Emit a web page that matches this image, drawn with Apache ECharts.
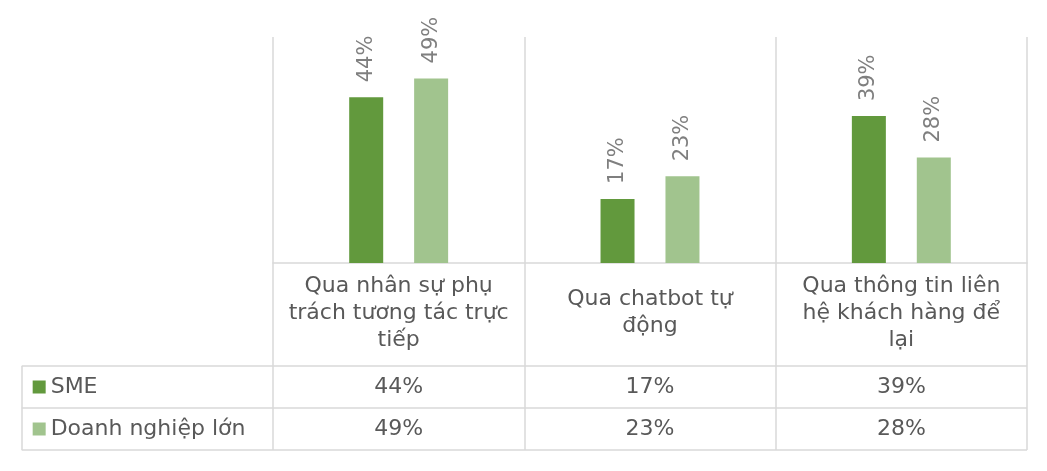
<!DOCTYPE html>
<html>
<head>
<meta charset="utf-8">
<script src="https://cdn.jsdelivr.net/npm/echarts@6/dist/echarts.min.js"></script>
<style>
html,body{margin:0;padding:0;background:#fff;}
#chart{width:1047px;height:471px;}
</style>
</head>
<body>
<div id="chart"></div>
<script>
// ---- data ----
const categories = ['Qua nhân sự phụ\ntrách tương tác trực\ntiếp', 'Qua chatbot tự\nđộng', 'Qua thông tin liên\nhệ khách hàng để\nlại'];
const seriesNames = ['SME', 'Doanh nghiệp lớn'];
const smeValues = [44, 17, 39];
const largeValues = [49, 23, 28];

const colors = ['#62993D', '#A1C48E'];
const gridColor = '#D9D9D9';
const textColor = '#595959';
const font = 'DejaVu Sans';
const fs = 22;

const plotLeft = 273, plotRight = 20;
const plotWidth = 1047 - plotLeft - plotRight;
const colW = plotWidth / categories.length;

const chart = echarts.init(document.getElementById('chart'), null, {renderer: 'canvas'});

const valueLabel = {
  show: true, position: 'top', rotate: 90, distance: 15,
  align: 'left', verticalAlign: 'middle',
  color: '#7F7F7F', fontSize: 21, fontFamily: font,
  formatter: p => p.value + '%'
};

const tableCell = (name, vals) => ({
  type: 'scatter', xAxisIndex: 2, yAxisIndex: 2,
  symbolSize: 1, itemStyle: {color: '#ffffff', opacity: 1},
  silent: true,
  data: categories.map((c, i) => [c, name, vals[i]]),
  label: {
    show: true, position: 'inside', fontSize: fs, fontFamily: font, color: textColor, opacity: 1,
    formatter: p => p.value[2] + '%'
  }
});

chart.setOption({
  animation: false,
  backgroundColor: '#fff',
  textStyle: {fontFamily: font},
  grid: [
    {left: plotLeft, right: plotRight, top: 37, bottom: 208},
    {left: plotLeft, right: plotRight, top: 263, height: 103},
    {left: plotLeft - colW, right: plotRight, top: 366, height: 84}
  ],
  xAxis: [
    {
      type: 'category', gridIndex: 0, data: categories,
      axisLine: {show: true, lineStyle: {color: gridColor, width: 1.5}},
      axisTick: {show: false},
      splitLine: {show: true, lineStyle: {color: gridColor, width: 1.5}},
      axisLabel: {
        interval: 0, margin: 50, verticalAlign: 'middle',
        fontSize: fs, lineHeight: 27, color: textColor, fontFamily: font, align: 'center'
      }
    },
    {
      type: 'category', gridIndex: 1, data: categories,
      axisLine: {show: false}, axisTick: {show: false}, axisLabel: {show: false},
      splitLine: {show: true, lineStyle: {color: gridColor, width: 1.5}}
    },
    {
      type: 'category', gridIndex: 2, data: [''].concat(categories),
      axisLine: {show: false}, axisTick: {show: false}, axisLabel: {show: false},
      splitLine: {show: true, lineStyle: {color: gridColor, width: 1.5}}
    }
  ],
  yAxis: [
    {type: 'value', gridIndex: 0, min: 0, max: 60, show: false},
    {type: 'value', gridIndex: 1, show: false},
    {
      type: 'category', gridIndex: 2, data: seriesNames, inverse: true,
      axisLine: {show: false}, axisTick: {show: false},
      splitLine: {show: true, lineStyle: {color: gridColor, width: 1.5}},
      axisLabel: {
        inside: true, margin: 11, align: 'left',
        formatter: (v, i) => '{' + (i === 0 ? 'a' : 'b') + '|}{t|' + v + '}',
        rich: {
          a: {width: 13, height: 13, backgroundColor: colors[0]},
          b: {width: 13, height: 13, backgroundColor: colors[1]},
          t: {fontSize: fs, color: textColor, fontFamily: font, padding: [0, 0, 0, 5]}
        }
      }
    }
  ],
  series: [
    {
      name: seriesNames[0], type: 'bar', xAxisIndex: 0, yAxisIndex: 0,
      data: smeValues, barWidth: 34, barGap: '91%',
      itemStyle: {color: colors[0]}, label: valueLabel
    },
    {
      name: seriesNames[1], type: 'bar', xAxisIndex: 0, yAxisIndex: 0,
      data: largeValues, barWidth: 34, barGap: '91%',
      itemStyle: {color: colors[1]}, label: valueLabel
    },
    tableCell(seriesNames[0], smeValues),
    tableCell(seriesNames[1], largeValues)
  ]
});
</script>
</body>
</html>
